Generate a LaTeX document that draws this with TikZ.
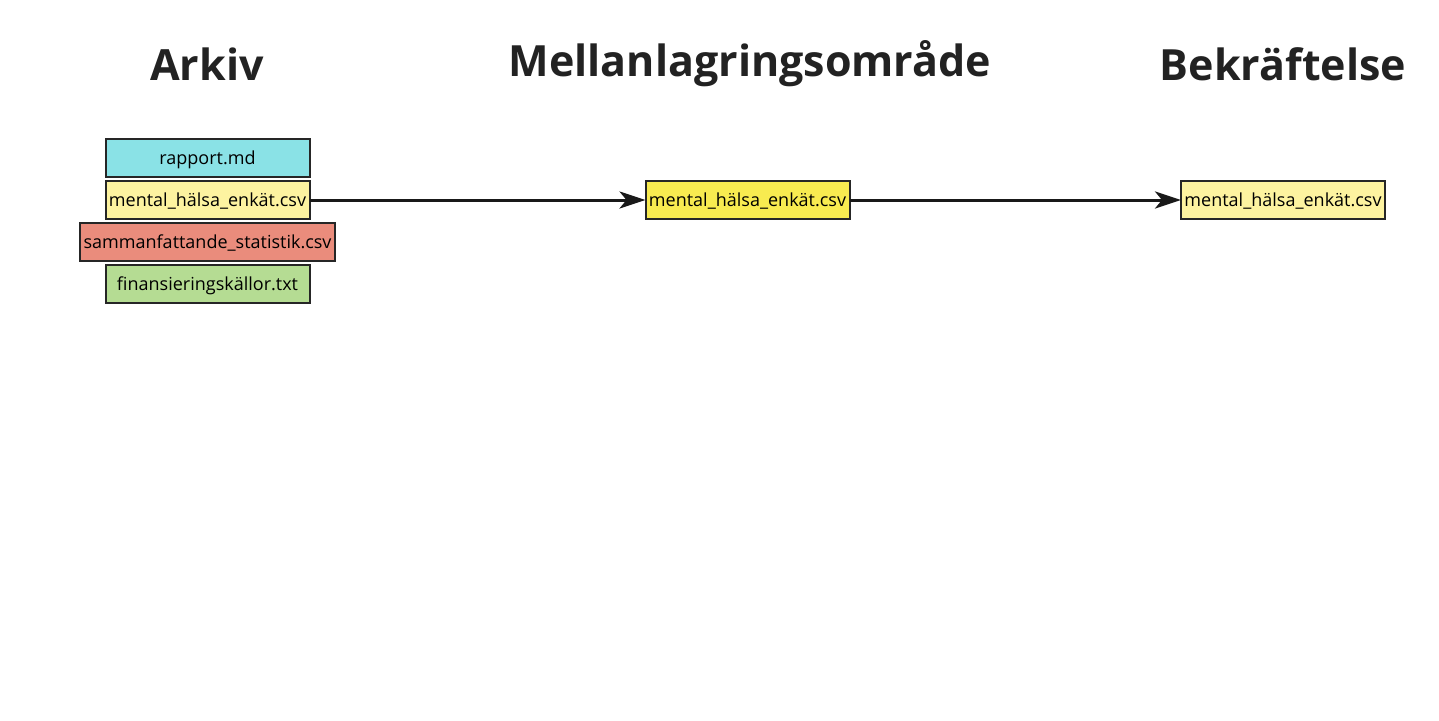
\documentclass[tikz,border=0pt]{standalone}
\usepackage{fontspec}
\setmainfont{Open Sans}
\usepackage{tikz}
\usetikzlibrary{positioning,arrows.meta}

\definecolor{fileCyan}{HTML}{8AE2E6}
\definecolor{filePale}{HTML}{FDF3A0}
\definecolor{fileRed}{HTML}{EA8C7C}
\definecolor{fileGreen}{HTML}{B5DC93}
\definecolor{fileYellow}{HTML}{F8EB50}
\definecolor{titleGray}{HTML}{222222}

\begin{document}
\begin{tikzpicture}[x=1pt,y=-1pt,%%
  fileStyle/.style={draw=black!85,line width=2pt,minimum width=204pt,minimum height=38pt,%%
    inner sep=0pt,outer sep=0pt,text height=13pt,text depth=0pt,font=\fontsize{18}{21}\selectfont},%%
  titleStyle/.style={font=\fontsize{43}{50}\selectfont\bfseries,text=titleGray},%%
  arrowStyle/.style={-{Stealth[length=26pt,width=17pt,inset=7pt]},line width=3pt,black!90}%%
]
%%
\pgfmathsetmacro{\gap}{4}
\pgfmathsetmacro{\rowY}{200}
%%
\useasboundingbox (0,0) rectangle (1439,720);
%%
%% Titles of the three areas.
\node[titleStyle] (titleArkiv) at (207,64) {Arkiv};
\node[titleStyle] (titleMellan) at (750,64) {Mellanlagringsområde};
\node[titleStyle] (titleBekr) at (1283,64) {Bekräftelse};
%%
%% Files in the archive.
\node[fileStyle,fill=fileCyan] (rapport) at (207.5,158) {rapport.md};
\node[fileStyle,fill=filePale,below=\gap pt of rapport] (enkatArkiv) {mental\_hälsa\_enkät.csv};
\node[fileStyle,fill=fileRed,minimum width=255pt,below=\gap pt of enkatArkiv] (statistik) {sammanfattande\_statistik.csv};
\node[fileStyle,fill=fileGreen,below=\gap pt of statistik] (kallor) {finansieringskällor.txt};
%%
%% Staged and committed file.
\node[fileStyle,fill=fileYellow] (enkatMellan) at (747.5,\rowY) {mental\_hälsa\_enkät.csv};
\node[fileStyle,fill=filePale] (enkatBekr) at (1283,\rowY) {mental\_hälsa\_enkät.csv};
%%
%% Arrows between the areas.
\draw[arrowStyle] (enkatArkiv.east) -- (enkatMellan.west);
\draw[arrowStyle] (enkatMellan.east) -- (enkatBekr.west);
\end{tikzpicture}
\end{document}
